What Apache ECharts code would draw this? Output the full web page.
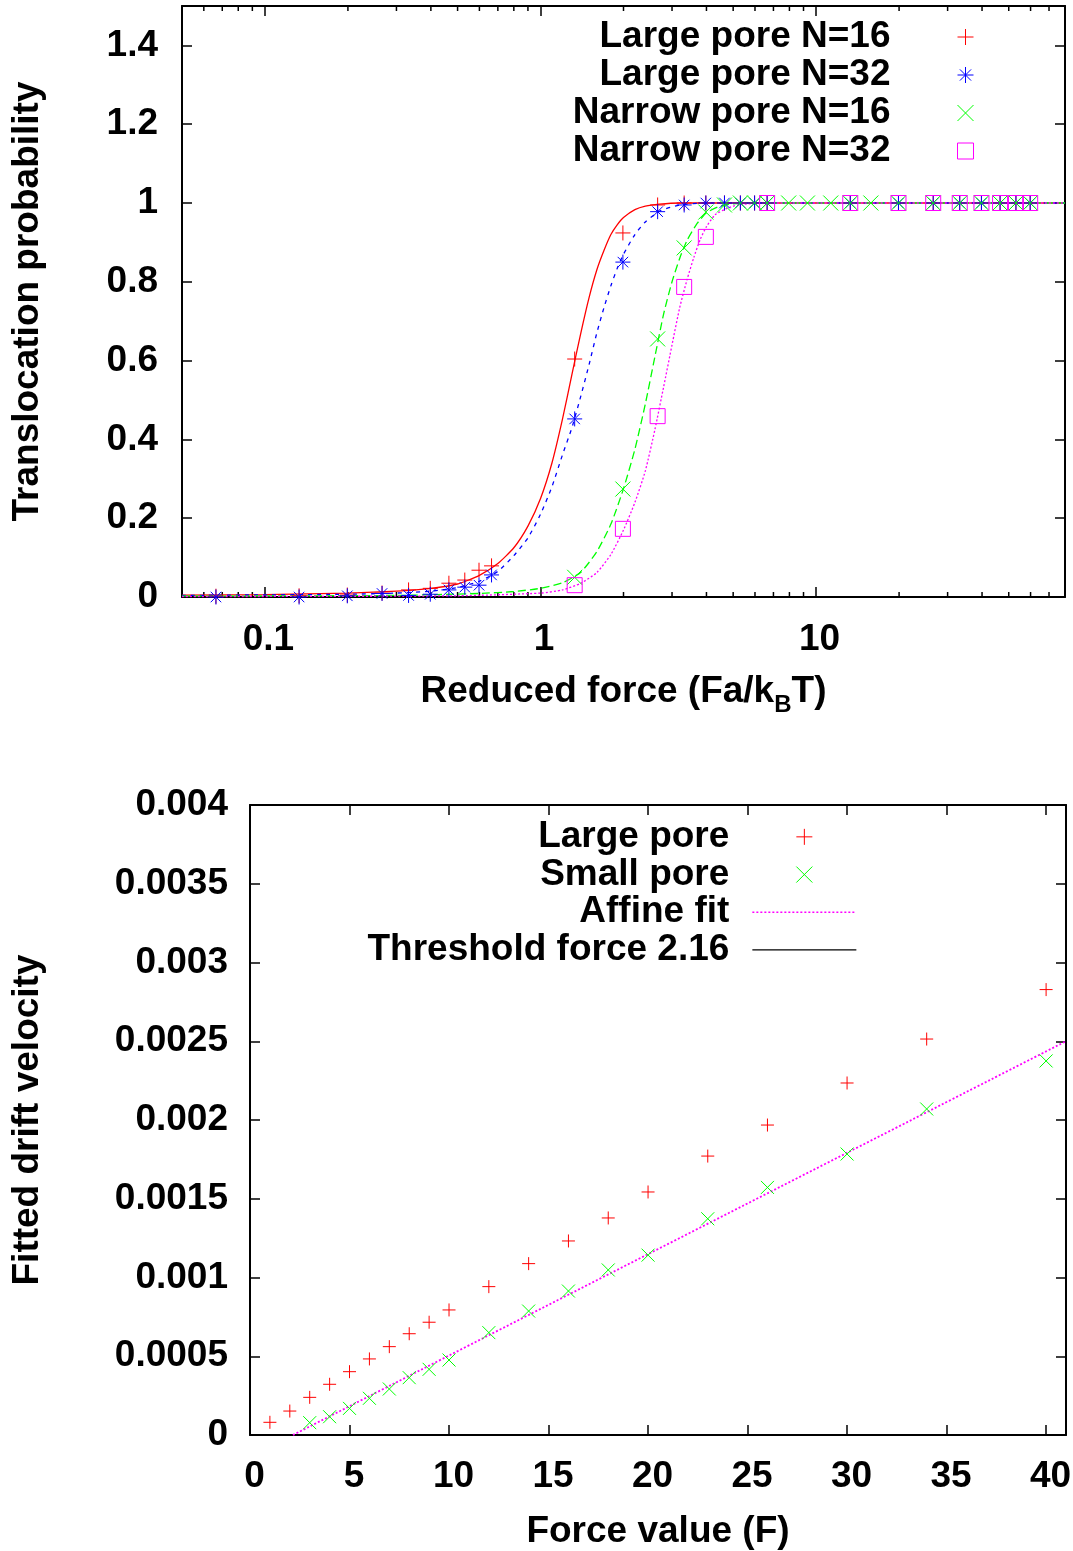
<!DOCTYPE html>
<html><head><meta charset="utf-8">
<script src="https://cdn.jsdelivr.net/npm/echarts@6/dist/echarts.min.js"></script>
<style>html,body{margin:0;padding:0;background:#fff}#c{width:1073px;height:1551px}</style>
</head><body><div id="c"></div>
<script>
// ---------- TOP PANEL DATA ----------
const topNames = ['Large pore N=16', 'Large pore N=32', 'Narrow pore N=16', 'Narrow pore N=32'];
const largeN16 = [[0.0664,0.002],[0.133,0.003],[0.199,0.005],[0.266,0.01],[0.332,0.018],[0.398,0.022],[0.465,0.035],[0.531,0.043],[0.598,0.068],[0.664,0.079],
  [1.33,0.604],[1.99,0.924],[2.66,0.995],[3.32,1],[3.98,1],[4.65,1],[5.31,1],[5.98,1],[6.64,1],
  [13.3,1],[19.9,1],[26.6,1],[33.2,1],[39.8,1],[46.5,1],[53.1,1],[59.8,1]];
const largeN32 = [[0.0664,0.0],[0.133,0.0],[0.199,0.003],[0.266,0.009],[0.332,0.004],[0.398,0.007],[0.465,0.018],[0.531,0.025],[0.598,0.03],[0.664,0.056],
  [1.33,0.452],[1.99,0.85],[2.66,0.978],[3.32,0.995],[3.98,1],[4.65,1],[5.31,1],[5.98,1],[6.64,1],
  [13.3,1],[19.9,1],[26.6,1],[33.2,1],[39.8,1],[46.5,1],[53.1,1],[59.8,1]];
const narrowN16 = [[1.33,0.05],[1.99,0.274],[2.66,0.655],[3.32,0.886],[3.98,0.977],[4.65,0.995],[5.31,1],[5.98,1],[6.64,1],
  [7.95,1],[9.3,1],[11.3,1],[13.3,1],[15.8,1],[19.9,1],[26.6,1],[33.2,1],[39.8,1],[46.5,1],[53.1,1],[59.8,1]];
const narrowN32 = [[1.33,0.03],[1.99,0.173],[2.66,0.459],[3.32,0.787],[3.98,0.914],[6.64,1],
  [13.3,1],[19.9,1],[26.6,1],[33.2,1],[39.8,1],[46.5,1],[53.1,1],[59.8,1]];
// fitted curves
const fitLargeN16 = [[0.05,0.005],[0.1,0.006],[0.2,0.01],[0.3,0.015],[0.4,0.022],[0.5,0.033],[0.6,0.055],[0.7,0.085],[0.8,0.125],[0.9,0.18],
  [1.0,0.25],[1.1,0.34],[1.2,0.45],[1.3,0.565],[1.4,0.67],[1.5,0.76],[1.6,0.83],[1.7,0.88],[1.8,0.92],[1.9,0.945],[2.0,0.963],
  [2.2,0.983],[2.4,0.992],[2.7,0.997],[3.2,1],[80,1]];
const fitLargeN32 = [[0.05,0.004],[0.2,0.007],[0.3,0.01],[0.4,0.015],[0.5,0.024],[0.6,0.04],[0.7,0.065],[0.8,0.105],[0.9,0.15],[1.0,0.21],
  [1.1,0.28],[1.2,0.36],[1.3,0.43],[1.4,0.51],[1.5,0.59],[1.6,0.67],[1.7,0.735],[1.8,0.79],[1.9,0.835],[2.0,0.87],[2.2,0.92],
  [2.4,0.952],[2.7,0.979],[3.2,0.995],[4.0,1],[80,1]];
const fitNarrowN16 = [[0.05,0.002],[0.3,0.004],[0.6,0.009],[0.8,0.014],[1.0,0.022],[1.2,0.036],[1.4,0.063],[1.6,0.115],[1.8,0.185],[2.0,0.275],
  [2.2,0.375],[2.4,0.49],[2.6,0.61],[2.8,0.72],[3.0,0.8],[3.2,0.86],[3.4,0.905],[3.7,0.948],[4.0,0.975],[4.4,0.99],[5.0,0.998],[6.0,1],[80,1]];
const fitNarrowN32 = [[0.05,0.001],[0.5,0.003],[1.0,0.01],[1.2,0.018],[1.4,0.035],[1.6,0.062],[1.8,0.108],[2.0,0.17],[2.2,0.24],[2.4,0.32],
  [2.6,0.425],[2.8,0.535],[3.0,0.64],[3.2,0.735],[3.4,0.805],[3.6,0.862],[3.8,0.908],[4.0,0.94],[4.3,0.97],[4.7,0.985],[5.2,0.995],[6.5,1],[80,1]];
const topMinorTicks = [0.06,0.07,0.08,0.09,0.2,0.3,0.4,0.5,0.6,0.7,0.8,0.9,2,3,4,5,6,7,8,9,20,30,40,50,60,70];

// ---------- BOTTOM PANEL DATA ----------
const bottomNames = ['Large pore', 'Small pore', 'Affine fit', 'Threshold force 2.16'];
const largeF = [1,2,3,4,5,6,7,8,9,10,12,14,16,18,20,23,26,30,34,40];
const largeV = [0.0000806,0.000152,0.000239,0.000322,0.000402,0.000483,0.000561,0.000643,0.000716,0.000794,0.000942,0.001088,0.001232,0.001378,0.001543,0.001771,0.001968,0.002235,0.002514,0.002828];
const smallF = [3,4,5,6,7,8,9,10,12,14,16,18,20,23,26,30,34,40];
const smallV = [0.0000783,0.000116,0.000169,0.000233,0.000292,0.000364,0.000417,0.000476,0.00065,0.000787,0.000914,0.001048,0.001142,0.001373,0.001572,0.001784,0.00207,0.002375];
const affineFit = [[2.16,0],[41,0.0025]];
const thresholdForce = [[2.16,0]];

// ---------- STYLE ----------
const FONT = 'Liberation Sans';
const FS = 37;
const txt = {fontFamily: FONT, fontWeight: 'bold', fontSize: FS, color: '#000'};
const SYM = {
  plus: 'path://M0,5L10,5M5,0L5,10',
  star: 'path://M0,5L10,5M5,0L5,10M1.5,1.5L8.5,8.5M1.5,8.5L8.5,1.5',
  cross: 'path://M0,0L10,10M0,10L10,0',
  box: 'path://M0,0L10,0L10,10L0,10Z'
};
const RED = '#ff0000', BLUE = '#0000ff', GREEN = '#00ff00', MAG = '#ff00ff';

const axisLine = {show: true, onZero: false, lineStyle: {color: '#000', width: 2}};
const tick = {show: true, inside: true, length: 10, lineStyle: {color: '#000', width: 1.5}};
function mirror(base) {
  return Object.assign({}, base, {axisLabel: {show: false}, name: '', axisTick: tick, axisLine: axisLine, splitLine: {show: false}});
}

const xTop = {type: 'log', gridIndex: 0, min: 0.05, max: 80, logBase: 10, position: 'bottom',
  axisLine, axisTick: tick, splitLine: {show: false}, minorTick: {show: false},
  axisLabel: Object.assign({}, txt, {margin: 24, padding: [0, 0, 0, 7], showMinLabel: false, showMaxLabel: false}),
  name: '{n|Reduced force (Fa/k}{s|B}{n|T)}', nameLocation: 'middle', nameGap: 70,
  nameTextStyle: {rich: {n: Object.assign({}, txt, {lineHeight: 50}), s: Object.assign({}, txt, {fontSize: 24, lineHeight: 20, verticalAlign: 'bottom'})}}
};
const yTop = {type: 'value', gridIndex: 0, min: 0, max: 1.5, interval: 0.2, position: 'left',
  axisLine, axisTick: tick, splitLine: {show: false},
  axisLabel: Object.assign({}, txt, {margin: 24, showMaxLabel: false}),
  name: 'Translocation probability', nameLocation: 'middle', nameGap: 136, nameTextStyle: txt
};
const xBot = {type: 'value', gridIndex: 1, min: 0, max: 41, interval: 5, position: 'bottom',
  axisLine, axisTick: tick, splitLine: {show: false},
  axisLabel: Object.assign({}, txt, {margin: 23, padding: [0, 0, 0, 9], showMaxLabel: false}),
  name: 'Force value (F)', nameLocation: 'middle', nameGap: 78, nameTextStyle: txt
};
const yBot = {type: 'value', gridIndex: 1, min: 0, max: 0.004, interval: 0.0005, position: 'left',
  axisLine, axisTick: tick, splitLine: {show: false},
  axisLabel: Object.assign({}, txt, {margin: 22}),
  name: 'Fitted drift velocity', nameLocation: 'middle', nameGap: 204, nameTextStyle: txt
};

function scatter(name, data, sym, color, size, xi, yi) {
  return {type: 'scatter', name, data, xAxisIndex: xi, yAxisIndex: yi, symbol: sym, symbolSize: size,
    itemStyle: {color: 'rgba(0,0,0,0)', borderColor: color, borderWidth: 1, opacity: 1}, z: 3};
}
function curve(name, data, color, dash, xi, yi, width) {
  return {type: 'line', name, data, xAxisIndex: xi, yAxisIndex: yi, symbol: 'none', showSymbol: false,
    smooth: 0.2, clip: true,
    lineStyle: {color, width: width || 1.3, type: dash}, itemStyle: {color}, z: 2};
}

const option = {
  animation: false,
  backgroundColor: '#fff',
  grid: [
    {left: 182, right: 8, top: 6, height: 591, outerBoundsMode: 'none', containLabel: false},
    {left: 250, right: 7, top: 805, height: 630, outerBoundsMode: 'none', containLabel: false}
  ],
  xAxis: [xTop, Object.assign(mirror(xTop), {position: 'top'}), xBot, Object.assign(mirror(xBot), {position: 'top'})],
  yAxis: [yTop, Object.assign(mirror(yTop), {position: 'right'}), yBot, Object.assign(mirror(yBot), {position: 'right'})],
  legend: [
    {data: topNames, orient: 'vertical', right: 99, top: 18, padding: 0, itemGap: 0, align: 'right',
      itemWidth: 104, itemHeight: 16, selectedMode: false,
      itemStyle: {borderWidth: 1}, lineStyle: {width: 1.3},
      textStyle: Object.assign({}, txt, {width: 340, align: 'right', lineHeight: 38, padding: [0, 18, 0, 0]})},
    {data: [bottomNames[0], bottomNames[1],
        {name: bottomNames[2], itemStyle: {opacity: 0}},
        {name: bottomNames[3], itemStyle: {opacity: 0}}],
      orient: 'vertical', right: 216, top: 818, padding: 0, itemGap: 0, align: 'right',
      itemWidth: 104, itemHeight: 16, selectedMode: false,
      itemStyle: {borderWidth: 1}, lineStyle: {width: 1.3},
      textStyle: Object.assign({}, txt, {width: 380, align: 'right', lineHeight: 37.7, padding: [0, 18, 0, 0]})}
  ],
  series: [
    curve('fitL16', fitLargeN16, RED, 'solid', 0, 0),
    curve('fitL32', fitLargeN32, BLUE, [4, 5], 0, 0),
    curve('fitN16', fitNarrowN16, GREEN, [8, 4], 0, 0),
    curve('fitN32', fitNarrowN32, MAG, [2, 2], 0, 0),
    scatter(topNames[0], largeN16, SYM.plus, RED, 15, 0, 0),
    scatter(topNames[1], largeN32, SYM.star, BLUE, 15, 0, 0),
    scatter(topNames[2], narrowN16, SYM.cross, GREEN, 15, 0, 0),
    scatter(topNames[3], narrowN32, SYM.box, MAG, 15, 0, 0),
    {type: 'custom', name: 'minorTicks', xAxisIndex: 0, yAxisIndex: 0, silent: true, clip: false,
      data: topMinorTicks.map(v => [v, 0]),
      renderItem: function (params, api) {
        const v = api.value(0);
        const b = api.coord([v, 0]);
        const t = api.coord([v, 1.5]);
        return {type: 'group', children: [
          {type: 'line', shape: {x1: b[0], y1: b[1], x2: b[0], y2: b[1] - 5}, style: {stroke: '#000', lineWidth: 1.5}},
          {type: 'line', shape: {x1: t[0], y1: t[1], x2: t[0], y2: t[1] + 5}, style: {stroke: '#000', lineWidth: 1.5}}
        ]};
      }},
    scatter(bottomNames[0], largeF.map((f, i) => [f, largeV[i]]), SYM.plus, RED, 13, 2, 2),
    scatter(bottomNames[1], smallF.map((f, i) => [f, smallV[i]]), SYM.cross, GREEN, 13, 2, 2),
    curve(bottomNames[2], affineFit, MAG, [2, 2], 2, 2, 1.8),
    curve(bottomNames[3], thresholdForce, '#000', 'solid', 2, 2, 1.5)
  ]
};
const chart = echarts.init(document.getElementById('c'));
chart.setOption(option);
</script>
</body></html>
